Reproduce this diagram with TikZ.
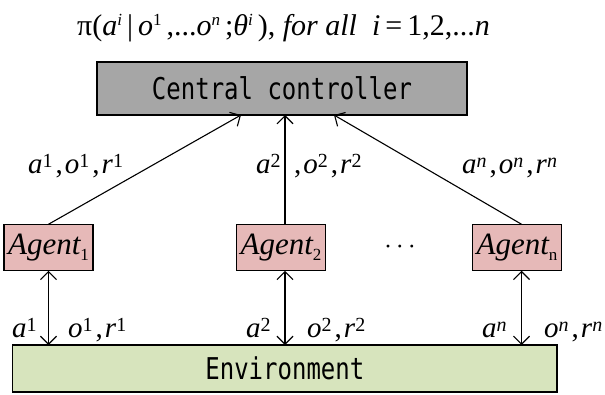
\documentclass[tikz,border=0pt]{standalone}
\usepackage{fontspec}
\setmainfont{Liberation Serif}
\newfontfamily\gothic[FakeStretch=0.8]{DejaVu Sans Mono}
\usetikzlibrary{arrows.meta,calc}
\newcommand\tsup[1]{\raisebox{10pt}{\fontsize{17}{17}\selectfont #1}}
\newcommand\lsup[1]{\raisebox{6pt}{\fontsize{20}{20}\selectfont #1}}
\newcommand\asub[1]{\raisebox{-6pt}{\upshape\fontsize{17}{17}\selectfont #1}}
\newcommand\cm{\kern3pt,\kern2pt}
\newcommand\labsize{\fontsize{29}{29}\selectfont}
\definecolor{ccgray}{RGB}{166,166,166}
\definecolor{agpink}{RGB}{230,185,184}
\definecolor{envgreen}{RGB}{215,228,189}
\tikzset{
  box/.style={draw=black,line width=1.4pt,inner sep=0pt,outer sep=0pt},
  ccbox/.style={box,fill=ccgray,minimum width=370pt,minimum height=53pt,font=\gothic\fontsize{30}{30}\selectfont},
  agbox/.style={box,fill=agpink,minimum width=89pt,minimum height=46.5pt,font=\itshape\fontsize{31}{31}\selectfont},
  envbox/.style={box,fill=envgreen,minimum width=544.3pt,minimum height=47pt,font=\gothic\fontsize{30}{30}\selectfont},
  arr/.style={line width=1.1pt,-{Straight Barb[length=8pt,width=16pt,line width=1.1pt]}},
  darr/.style={line width=1.2pt,{Straight Barb[length=8pt,width=16pt,line width=1.2pt]}-{Straight Barb[length=8pt,width=16pt,line width=1.2pt]}},
  lab/.style={anchor=base west,inner sep=0pt,font=\labsize}
}
\begin{document}
\begin{tikzpicture}[x=1pt,y=-1pt]
\useasboundingbox (0,0) rectangle (605,394);
% title
\node[anchor=base west,inner sep=0pt] (title) at (77,35) {\fontsize{30}{30}\selectfont π(\textit{a}\tsup{\textit{i}}\,|\,\textit{o}\tsup{1}\,,...\textit{o}\tsup{\textit{n}}\,;\textit{θ}\tsup{\textit{i}}\,), \textit{for all}\enspace \textit{i}\,=\,1,2,...\textit{n}};
% boxes
\node[ccbox] (cc) at (282,88.5) {Central controller};
\node[agbox] (ag1) at (48.5,247.5) {Agent\asub{1}};
\node[agbox] (ag2) at (281,247.5) {Agent\asub{2}};
\node[agbox] (agn) at (517,247.5) {Agent\asub{n}};
\node[envbox] (env) at (284.85,368.5) {Environment};
\node[inner sep=0pt,font=\fontsize{24}{24}\selectfont] (dots) at (400,250) {·\,·\,·};
% upward connectors
\draw[arr] (ag1.north) -- ($(cc.south)+(-41,0)$);
\draw[arr] ($(ag2.north)+(4,0)$) -- ($(cc.south)+(3,0)$);
\draw[arr] ($(agn.north)+(4.5,0)$) -- ($(cc.south)+(52,0)$);
% agent-environment connectors
\draw[darr] (ag1.south) -- (ag1.south |- env.north);
\draw[darr] ($(ag2.south)+(4,0)$) -- ($(ag2.south |- env.north)+(4,0)$);
\draw[darr] ($(agn.south)+(4.5,0)$) -- ($(agn.south |- env.north)+(4.5,0)$);
% upper labels
\node[lab] (l1) at (28,173) {\textit{a}\lsup{1}\cm\textit{o}\lsup{1}\cm\textit{r}\lsup{1}};
\node[lab] (l2a) at (256,173) {\textit{a}\lsup{2}};
\node[lab] (l2b) at (294,173) {,\kern2pt\textit{o}\lsup{2}\cm\textit{r}\lsup{2}};
\node[lab] (ln) at (462,173) {\textit{a}\lsup{\textit{n}}\cm\textit{o}\lsup{\textit{n}}\cm\textit{r}\lsup{\textit{n}}};
% lower labels
\node[lab] (b1a) at (12,337) {\textit{a}\lsup{1}};
\node[lab] (b1b) at (68,337) {\textit{o}\lsup{1}\cm\textit{r}\lsup{1}};
\node[lab] (b2a) at (246,337) {\textit{a}\lsup{2}};
\node[lab] (b2b) at (307,337) {\textit{o}\lsup{2}\cm\textit{r}\lsup{2}};
\node[lab] (bna) at (482,337) {\textit{a}\lsup{\textit{n}}};
\node[lab] (bnb) at (544,337) {\textit{o}\lsup{\textit{n}}\cm\textit{r}\lsup{\textit{n}}};
\end{tikzpicture}
\end{document}
